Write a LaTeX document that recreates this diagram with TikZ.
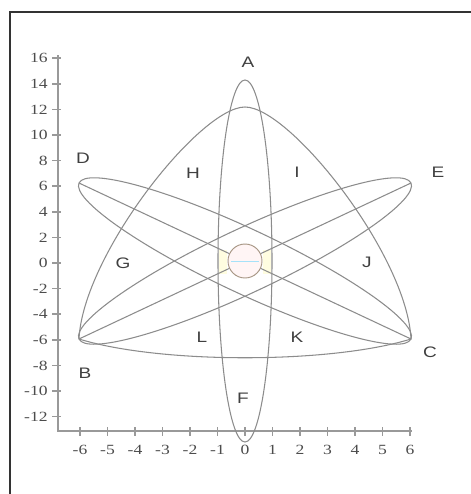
\documentclass[tikz,border=0pt]{standalone}
\usepackage{fontspec}
\setmainfont{Liberation Serif}
\newfontfamily\labfont{Liberation Sans}
\usetikzlibrary{positioning}
\newcommand\wide[1]{\scalebox{1.25}[1]{#1}}

\begin{document}
\begin{tikzpicture}[x=0.03cm, y=-0.03cm,
  curve/.style={draw=black!45, line width=0.9pt},
  axis/.style={draw=black!40, line width=1.3pt},
  tick/.style={font=\fontsize{12}{12}\selectfont, text=black!70, inner sep=1pt},
  region/.style={font=\labfont\fontsize{13}{13}\selectfont, text=black!75, inner sep=1pt}]
\useasboundingbox (0,0) rectangle (471,494);
\fill[white] (0,0) rectangle (471,494);
\draw[black!80, line width=1.6pt] (10,494) -- (10,12) -- (471,12);

\coordinate (ctr) at (245,261);
\coordinate (top) at (245,107);
\coordinate (b) at (79,339);
\coordinate (c) at (411,339);
\coordinate (d) at (79,183);
\coordinate (e) at (411,183);

\draw[axis] (58,55) -- (58,431) -- (412,431);
\foreach \v [count=\i] in {16,14,...,-12} {
  \draw[axis] (52,263-12.8*\v) -- (61,263-12.8*\v);
  \node[tick, anchor=east] (yl\i) at (49,263-12.8*\v) {\wide{\v}};
}
\foreach \u [count=\i] in {-6,...,6} {
  \draw[axis] (245+27.5*\u,427) -- (245+27.5*\u,436);
  \node[tick] (xl\i) at (245+27.5*\u,450) {\wide{\u}};
}

\fill[yellow!12] (219,250) rectangle (227,274);
\fill[yellow!12] (263,250) rectangle (271,274);
\draw[curve] (b) .. controls (83,255) and (200,107) .. (top)
  .. controls (290,107) and (407,255) .. (c)
  .. controls (330,364) and (160,364) .. (b);
\draw[curve] (ctr) ellipse (27 and 181);
\draw[curve, rotate around={-25.17:(ctr)}] (ctr) ellipse (183.4 and 32);
\draw[curve, rotate around={25.17:(ctr)}] (ctr) ellipse (183.4 and 32);
\draw[curve] (d) -- (c);
\draw[curve] (e) -- (b);
\draw[draw=brown!50!black!55, line width=0.8pt, fill=red!4] (ctr) circle (17);
\draw[cyan!35, line width=0.6pt] (231,261) -- (259,261);

\node[region] (la) at (248,62) {\wide{A}};
\node[region] (lb) at (85,373) {\wide{B}};
\node[region] (lc) at (430,352) {\wide{C}};
\node[region] (ld) at (83,158) {\wide{D}};
\node[region] (le) at (438,172) {\wide{E}};
\node[region] (lf) at (243,398) {\wide{F}};
\node[region] (lg) at (123,263) {\wide{G}};
\node[region] (lh) at (193,173) {\wide{H}};
\node[region] (li) at (297,172) {\wide{I}};
\node[region] (lj) at (367,262) {\wide{J}};
\node[region] (lk) at (297,337) {\wide{K}};
\node[region] (ll) at (202,337) {\wide{L}};
\end{tikzpicture}
\end{document}
